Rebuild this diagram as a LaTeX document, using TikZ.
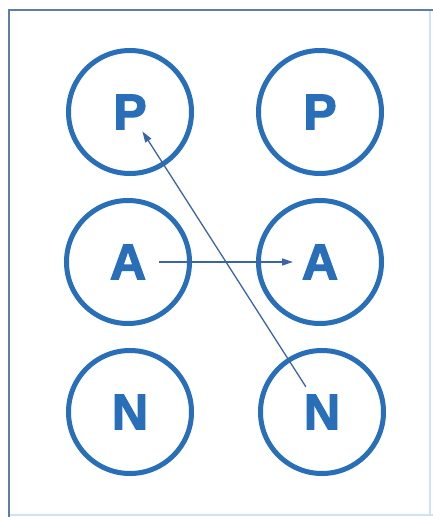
\documentclass[tikz,border=0pt]{standalone}
\usepackage{fontspec}
\setmainfont{Liberation Sans}
\newfontfamily\heavyfont[FakeBold=2.5]{Liberation Sans}
\usepackage{tikz}
\usetikzlibrary{arrows.meta}
\usepackage{xcolor}
\definecolor{ringblue}{RGB}{40,110,185}
\definecolor{arrowblue}{RGB}{60,100,165}
\definecolor{framegray}{RGB}{95,125,165}
\definecolor{framelight}{RGB}{205,228,245}

\begin{document}
\begin{tikzpicture}[x=1pt, y=-1pt,
  ring/.style={circle, draw=ringblue, line width=5pt, minimum size=123pt,
    text=ringblue, font=\heavyfont\bfseries\fontsize{50}{50}\selectfont},
  link/.style={arrowblue, line width=1.3pt, -{Triangle[length=11pt, width=7pt]}}]

\useasboundingbox (0,0) rectangle (433,517);

% Frame
\draw[framelight, line width=2pt] (9,515) -- (433,515);
\draw[framelight, line width=1.5pt] (430,10) -- (430,515);
\draw[framegray, line width=2.5pt] (433,10) -- (9,10) -- (9,517);

% Left column
\node[ring] (pL) at (130,112) {P};
\node[ring] (aL) at (128,262) {A};
\node[ring] (nL) at (130,412) {N};

% Right column
\node[ring] (pR) at (320,112) {P};
\node[ring] (aR) at (320,262) {A};
\node[ring] (nR) at (322,412) {N};

% Shifts
\draw[link, shorten <=31pt, shorten >=27pt] (aL.center) -- (aR.center);
\draw[link, shorten <=30pt, shorten >=23pt] (nR.center) -- (pL.center);

\end{tikzpicture}
\end{document}
